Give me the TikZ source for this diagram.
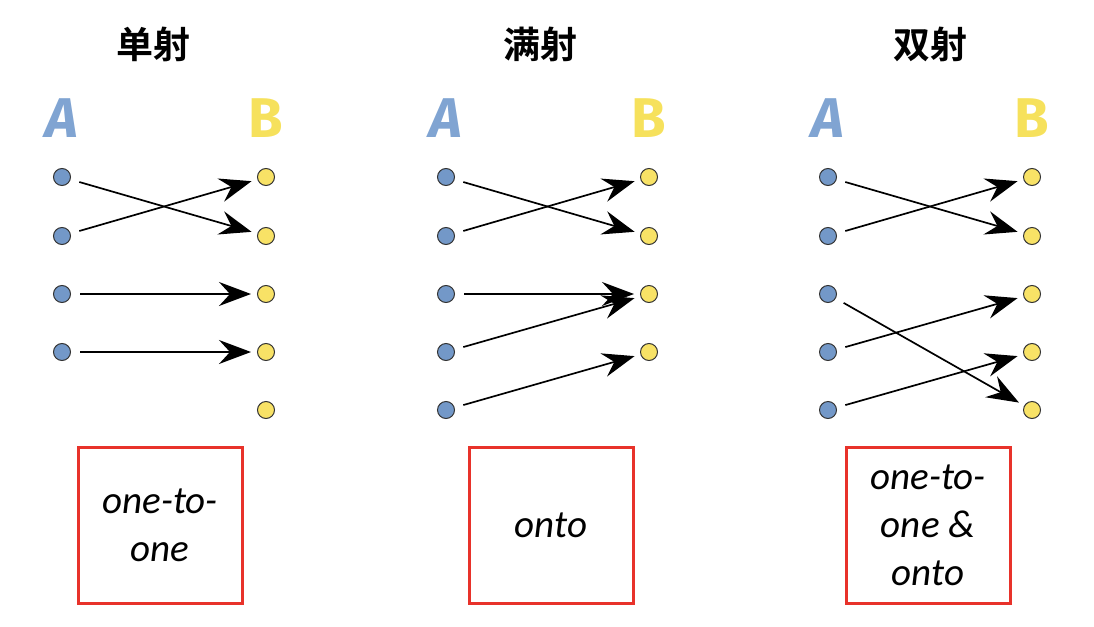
\documentclass[tikz,border=0pt]{standalone}
\usepackage{fontspec}
\setmainfont{Carlito}
\newfontfamily\cjk{Noto Sans CJK SC}[BoldFont={Noto Sans CJK SC Bold}]
\newfontfamily\letterfont{Fira Sans}
\usetikzlibrary{arrows.meta}
\definecolor{dotA}{HTML}{7398C8}
\definecolor{dotB}{HTML}{F8E266}
\definecolor{letA}{HTML}{80A4D2}
\definecolor{letB}{HTML}{F6E15C}
\definecolor{boxred}{HTML}{E8322A}
\tikzset{
  adot/.style={circle,draw=black!80,line width=1pt,fill=dotA,minimum size=17pt,inner sep=0pt},
  bdot/.style={circle,draw=black!80,line width=1pt,fill=dotB,minimum size=17pt,inner sep=0pt},
  map/.style={line width=1.7pt,-{Stealth[length=32pt,width=24pt,inset=11pt]},shorten <=9pt,shorten >=6pt},
  title/.style={font=\cjk\bfseries\fontsize{37}{42}\selectfont},
  alet/.style={font=\letterfont\bfseries\itshape\fontsize{56}{60}\selectfont,text=letA},
  blet/.style={font=\letterfont\bfseries\fontsize{56}{60}\selectfont,text=letB},
  tbox/.style={draw=boxred,line width=3pt,minimum width=164pt,minimum height=156pt,align=center,
    font=\itshape\fontsize{39}{48}\selectfont,inner sep=0pt},
}
\begin{document}
\begin{tikzpicture}[x=1pt,y=-1pt]
\useasboundingbox (0,0) rectangle (1094,626);
% titles
\node[title] (t1) at (153,44) {单射};
\node[title] (t2) at (540,44) {满射};
\node[title] (t3) at (930,44) {双射};
% panel 1
\node[alet] (la1) at (62,118) {A};
\node[blet] (lb1) at (266,118) {B};
\foreach \i/\y in {1/177,2/236,3/294,4/352} \node[adot] (p1a\i) at (62,\y) {};
\foreach \i/\y in {1/177,2/236,3/294,4/352,5/410} \node[bdot] (p1b\i) at (266,\y) {};
\draw[map] (p1a1) -- (p1b2);
\draw[map] (p1a2) -- (p1b1);
\draw[map] (p1a3) -- (p1b3);
\draw[map] (p1a4) -- (p1b4);
% panel 2
\node[alet] (la2) at (446,118) {A};
\node[blet] (lb2) at (649,118) {B};
\foreach \i/\y in {1/177,2/236,3/294,4/352,5/410} \node[adot] (p2a\i) at (446,\y) {};
\foreach \i/\y in {1/177,2/236,3/294,4/352} \node[bdot] (p2b\i) at (649,\y) {};
\draw[map] (p2a1) -- (p2b2);
\draw[map] (p2a2) -- (p2b1);
\draw[map] (p2a3) -- (p2b3);
\draw[map] (p2a4) -- (p2b3);
\draw[map] (p2a5) -- (p2b4);
% panel 3
\node[alet] (la3) at (828,118) {A};
\node[blet] (lb3) at (1032,118) {B};
\foreach \i/\y in {1/177,2/236,3/294,4/352,5/410} \node[adot] (p3a\i) at (828,\y) {};
\foreach \i/\y in {1/177,2/236,3/294,4/352,5/410} \node[bdot] (p3b\i) at (1032,\y) {};
\draw[map] (p3a1) -- (p3b2);
\draw[map] (p3a2) -- (p3b1);
\draw[map] (p3a3) -- (p3b5);
\draw[map] (p3a4) -- (p3b3);
\draw[map] (p3a5) -- (p3b4);
% boxes
\node[tbox] (box1) at (160,525) {one-to-\\one};
\node[tbox] (box2) at (551,525) {onto};
\node[tbox] (box3) at (928,525) {one-to-\\one \&\\onto};
\end{tikzpicture}
\end{document}
